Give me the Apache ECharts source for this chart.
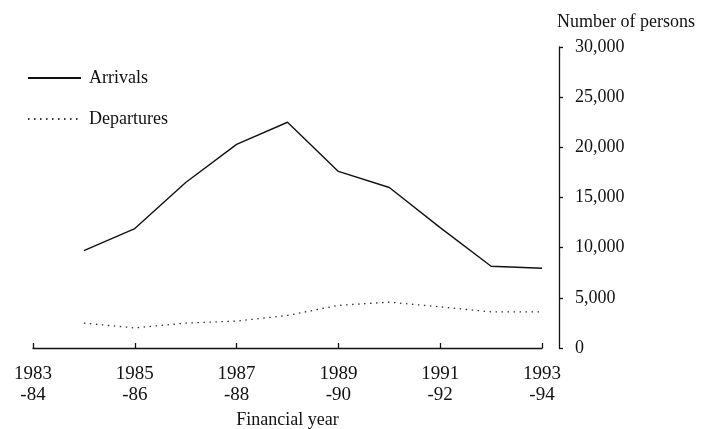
<!DOCTYPE html>
<html>
<head>
<meta charset="utf-8">
<script src="https://cdn.jsdelivr.net/npm/echarts@6/dist/echarts.min.js"></script>
<style>
  html, body { margin: 0; padding: 0; background: #fff; }
  #main { width: 715px; height: 429px; }
</style>
</head>
<body>
<div id="main"></div>
<script>
// financial years, one per category
const years = ['1983\n-84', '1984\n-85', '1985\n-86', '1986\n-87', '1987\n-88', '1988\n-89',
  '1989\n-90', '1990\n-91', '1991\n-92', '1992\n-93', '1993\n-94'];
// number of persons
const arrivals = [null, 9700, 11900, 16500, 20300, 22500, 17600, 16000, 12000, 8150, 7950];
const departures = [null, 2480, 2000, 2480, 2680, 3250, 4250, 4570, 4100, 3600, 3600];
const yTicks = [0, 5000, 10000, 15000, 20000, 25000, 30000];

const serif = '"Liberation Serif", "DejaVu Serif", serif';
const ink = '#111';

const chart = echarts.init(document.getElementById('main'), null, { renderer: 'canvas' });

const option = {
  backgroundColor: '#ffffff',
  animation: false,
  textStyle: { fontFamily: serif, color: ink },
  grid: { left: 33, right: 173, top: 47, bottom: 81, containLabel: false, outerBoundsMode: 'none' },
  legend: {
    orient: 'vertical',
    left: 27,
    top: 69,
    padding: 0,
    itemWidth: 53,
    itemHeight: 14,
    itemGap: 23,
    itemStyle: { opacity: 0 },
    textStyle: { fontFamily: serif, fontSize: 18, color: ink, padding: [0, 0, 0, 3] },
    data: ['Arrivals', 'Departures']
  },
  xAxis: {
    type: 'category',
    data: years,
    boundaryGap: false,
    name: 'Financial year',
    nameLocation: 'middle',
    nameGap: 63,
    nameTextStyle: { fontFamily: serif, fontSize: 18, color: ink },
    axisLine: { lineStyle: { color: ink, width: 1.3 } },
    axisTick: { show: true, inside: true, length: 5, interval: 1, lineStyle: { color: ink, width: 1.3 } },
    axisLabel: {
      interval: 1,
      margin: 16,
      fontFamily: serif,
      fontSize: 19,
      lineHeight: 21,
      color: ink,
      align: 'center'
    },
    splitLine: { show: false }
  },
  yAxis: {
    type: 'value',
    position: 'right',
    offset: 17,
    min: yTicks[0],
    max: yTicks[yTicks.length - 1],
    interval: 5000,
    name: 'Number of persons',
    nameLocation: 'end',
    nameGap: 16,
    nameTextStyle: { fontFamily: serif, fontSize: 18, color: ink, align: 'left', verticalAlign: 'bottom', padding: [0, 0, 0, -2] },
    axisLine: { show: true, lineStyle: { color: ink, width: 1.3 } },
    axisTick: { show: true, inside: false, length: 4, lineStyle: { color: ink, width: 1.3 } },
    axisLabel: {
      margin: 16,
      fontFamily: serif,
      fontSize: 18,
      color: ink,
      verticalAlign: 'middle',
      padding: [0, 0, 5, 0],
      formatter: v => v.toLocaleString('en-US')
    },
    splitLine: { show: false }
  },
  series: [
    {
      name: 'Arrivals',
      type: 'line',
      data: arrivals,
      symbol: 'none',
      color: ink,
      lineStyle: { color: ink, width: 1.4 }
    },
    {
      name: 'Departures',
      type: 'line',
      data: departures,
      symbol: 'none',
      color: ink,
      lineStyle: { color: '#333', width: 1.3, type: [1.5, 4.5] }
    }
  ]
};

chart.setOption(option);
</script>
</body>
</html>
